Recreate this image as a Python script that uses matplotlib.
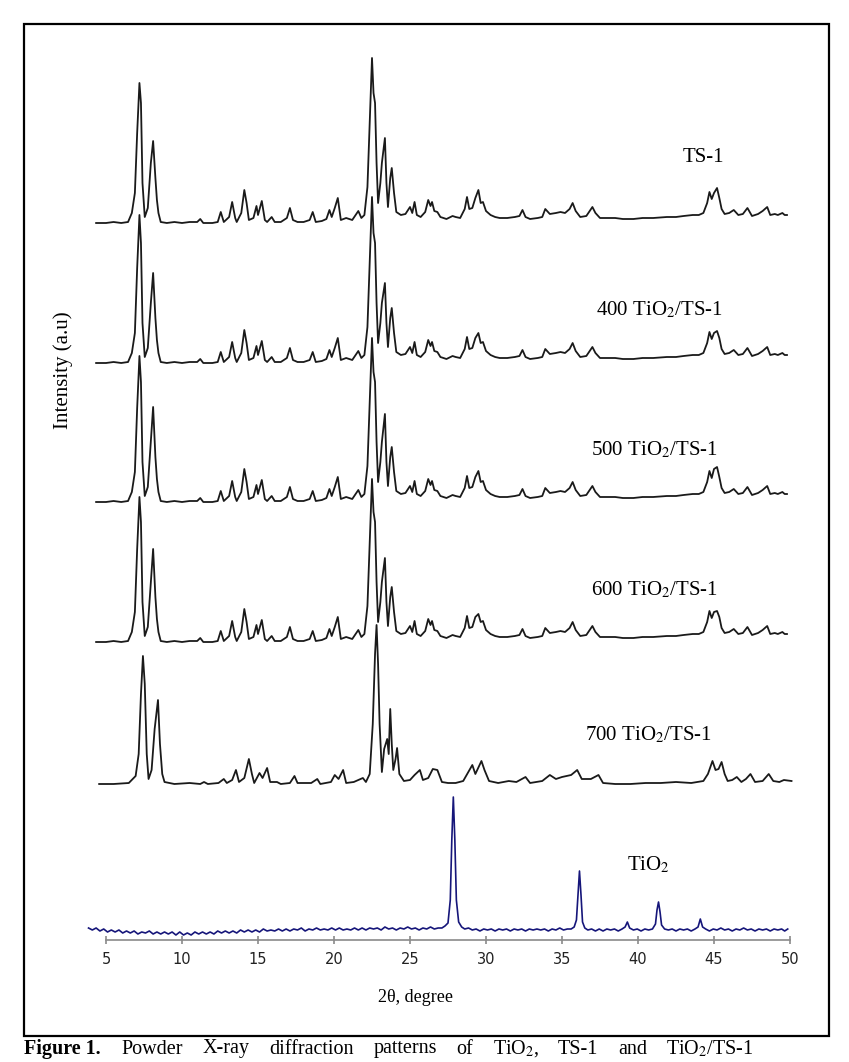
#!/usr/bin/env python3
import matplotlib as mpl
import matplotlib.pyplot as plt
from matplotlib.patches import Rectangle

# XRD traces: (2theta, height above the trace's own baseline)
ts1 = [
    (4.35, 0), (5.0, 0), (5.5, 1), (6.0, 0), (6.45, 1), (6.7, 10), (6.9, 30),
    (7.05, 90), (7.2, 140), (7.3, 120), (7.4, 40), (7.55, 6), (7.75, 15),
    (7.95, 60), (8.1, 82), (8.25, 45), (8.35, 23), (8.45, 10), (8.6, 1),
    (9.0, 0), (9.5, 1), (10.0, 0), (10.5, 1), (11.0, 1), (11.2, 4), (11.4, 0),
    (12.0, 0), (12.35, 1), (12.55, 11), (12.75, 1), (13.1, 6), (13.3, 21),
    (13.5, 5), (13.6, 1), (13.9, 10), (14.1, 33), (14.25, 20), (14.4, 3),
    (14.7, 5), (14.9, 17), (15.0, 8), (15.25, 22), (15.45, 3), (15.6, 1),
    (15.9, 6), (16.1, 1), (16.5, 1), (16.9, 5), (17.1, 15), (17.3, 3),
    (17.6, 1), (18.0, 1), (18.4, 3), (18.6, 11), (18.8, 1), (19.2, 2),
    (19.5, 4), (19.7, 13), (19.85, 6), (20.05, 15), (20.25, 25), (20.45, 3),
    (20.8, 5), (21.2, 3), (21.6, 12), (21.8, 5), (22.0, 8), (22.2, 36),
    (22.35, 100), (22.5, 165), (22.6, 130), (22.7, 120), (22.8, 60),
    (22.9, 20), (23.05, 40), (23.15, 60), (23.35, 85), (23.45, 40),
    (23.55, 16), (23.7, 45), (23.8, 55), (23.95, 30), (24.1, 11), (24.4, 8),
    (24.7, 9), (25.0, 16), (25.15, 10), (25.3, 21), (25.45, 8), (25.7, 6),
    (26.0, 11), (26.2, 23), (26.35, 17), (26.45, 21), (26.6, 12), (26.8, 11),
    (27.0, 6), (27.4, 4), (27.8, 7), (28.0, 6), (28.3, 5), (28.6, 14),
    (28.75, 26), (28.9, 14), (29.1, 15), (29.3, 25), (29.5, 33), (29.65, 20),
    (29.8, 21), (30.0, 12), (30.3, 8), (30.6, 6), (30.9, 5), (31.4, 5),
    (31.9, 6), (32.2, 7), (32.4, 13), (32.6, 6), (32.9, 4), (33.4, 5),
    (33.7, 6), (33.9, 14), (34.2, 9), (34.6, 10), (34.9, 11), (35.2, 10),
    (35.5, 14), (35.7, 20), (35.9, 12), (36.2, 6), (36.6, 7), (37.0, 16),
    (37.2, 10), (37.5, 5), (38.0, 5), (38.5, 5), (39.0, 4), (39.7, 4),
    (40.3, 5), (41.0, 5), (41.9, 6), (42.5, 6), (43.0, 7), (43.6, 8),
    (44.0, 8), (44.3, 10), (44.55, 20), (44.7, 31), (44.85, 24), (45.0, 30),
    (45.2, 35), (45.35, 25), (45.5, 14), (45.7, 9), (46.0, 10), (46.3, 13),
    (46.6, 8), (46.9, 9), (47.2, 15), (47.5, 7), (47.9, 9), (48.2, 12),
    (48.5, 16), (48.7, 8), (49.0, 9), (49.2, 8), (49.5, 10), (49.65, 8),
    (49.8, 8),
]

# the calcined samples follow the TS-1 pattern; these are the points read
# differently off each of their traces
peaks_400 = {(7.05): 95, (7.2): 148, (8.1): 90, (22.5): 166, (23.35): 80,
             (29.5): 30, (45.2): 32}
peaks_500 = {(7.05): 94, (7.2): 146, (8.1): 95, (22.5): 164, (23.35): 88,
             (29.5): 31, (45.0): 33}
peaks_600 = {(7.05): 93, (7.2): 145, (8.1): 93, (22.5): 163, (23.35): 84,
             (29.5): 28, (45.2): 31}

ts1_700 = [
    (4.55, 0), (5.5, 0), (6.5, 1), (6.95, 8), (7.15, 30), (7.3, 90),
    (7.43, 128), (7.55, 100), (7.68, 30), (7.8, 5), (8.0, 14), (8.2, 55),
    (8.42, 84), (8.55, 40), (8.7, 10), (8.85, 2), (9.5, 0), (10.5, 1),
    (11.2, 0), (11.45, 2), (11.7, 0), (12.4, 1), (12.75, 5), (12.95, 1),
    (13.3, 4), (13.55, 14), (13.75, 2), (14.1, 6), (14.4, 25), (14.6, 10),
    (14.75, 1), (15.1, 11), (15.3, 6), (15.6, 16), (15.8, 2), (16.25, 2),
    (16.5, 0), (17.1, 1), (17.4, 8), (17.6, 1), (18.5, 1), (18.9, 5),
    (19.1, 0), (19.8, 2), (20.05, 9), (20.3, 5), (20.6, 14), (20.8, 1),
    (21.3, 2), (21.9, 6), (22.1, 2), (22.35, 10), (22.55, 60), (22.7, 130),
    (22.8, 159), (22.9, 120), (23.0, 60), (23.15, 12), (23.3, 35),
    (23.5, 45), (23.6, 30), (23.7, 75), (23.8, 40), (23.9, 14), (24.05, 25),
    (24.15, 36), (24.3, 10), (24.6, 3), (25.0, 4), (25.3, 9), (25.65, 14),
    (25.85, 4), (26.2, 6), (26.5, 15), (26.8, 14), (27.1, 2), (27.5, 1),
    (28.0, 1), (28.5, 3), (29.1, 19), (29.3, 10), (29.7, 23), (29.9, 14),
    (30.2, 3), (30.8, 1), (31.5, 3), (32.0, 2), (32.6, 7), (32.9, 1),
    (33.7, 3), (34.2, 9), (34.6, 5), (35.0, 7), (35.6, 9), (36.0, 14),
    (36.3, 5), (36.9, 5), (37.4, 9), (37.7, 1), (38.5, 0), (39.5, 0),
    (40.5, 1), (41.5, 1), (42.5, 2), (43.5, 1), (44.3, 3), (44.6, 10),
    (44.9, 23), (45.1, 14), (45.3, 15), (45.5, 22), (45.7, 10), (45.9, 3),
    (46.2, 4), (46.5, 7), (46.8, 2), (47.1, 5), (47.4, 10), (47.7, 2),
    (48.2, 3), (48.6, 10), (48.9, 3), (49.3, 2), (49.6, 4), (50.1, 3),
]

tio2 = [
    (3.85, 12), (4.1, 10), (4.35, 12), (4.6, 9), (4.85, 11), (5.1, 8),
    (5.35, 10), (5.6, 8), (5.85, 10), (6.1, 7), (6.35, 9), (6.6, 7),
    (6.85, 9), (7.1, 6), (7.35, 8), (7.6, 7), (7.85, 9), (8.1, 6), (8.35, 8),
    (8.6, 6), (8.85, 8), (9.1, 6), (9.35, 8), (9.6, 5), (9.85, 8), (10.1, 5),
    (10.35, 7), (10.6, 5), (10.85, 8), (11.1, 6), (11.35, 8), (11.6, 6),
    (11.85, 8), (12.1, 6), (12.35, 9), (12.6, 7), (12.85, 9), (13.1, 7),
    (13.35, 9), (13.6, 7), (13.85, 10), (14.1, 8), (14.35, 10), (14.6, 8),
    (14.85, 10), (15.1, 8), (15.35, 11), (15.6, 9), (15.85, 10), (16.1, 9),
    (16.35, 11), (16.6, 9), (16.85, 11), (17.1, 9), (17.35, 11), (17.6, 10),
    (17.85, 12), (18.1, 9), (18.35, 11), (18.6, 10), (18.85, 12), (19.1, 10),
    (19.35, 11), (19.6, 10), (19.85, 12), (20.1, 10), (20.35, 12),
    (20.6, 10), (20.85, 11), (21.1, 10), (21.35, 12), (21.6, 10), (21.85, 12),
    (22.1, 10), (22.35, 12), (22.6, 11), (22.85, 12), (23.1, 10), (23.35, 13),
    (23.6, 11), (23.85, 12), (24.1, 10), (24.35, 12), (24.6, 11), (24.85, 13),
    (25.1, 11), (25.35, 12), (25.6, 10), (25.85, 12), (26.1, 11), (26.35, 13),
    (26.6, 11), (26.85, 12), (27.1, 12), (27.3, 14), (27.5, 17), (27.65, 40),
    (27.75, 100), (27.85, 143), (27.95, 100), (28.05, 40), (28.2, 18),
    (28.4, 13), (28.6, 11), (28.85, 12), (29.1, 10), (29.35, 11), (29.6, 9),
    (29.85, 11), (30.1, 10), (30.35, 11), (30.6, 9), (30.85, 11), (31.1, 10),
    (31.35, 11), (31.6, 9), (31.85, 11), (32.1, 10), (32.35, 11), (32.6, 9),
    (32.85, 11), (33.1, 10), (33.35, 11), (33.6, 10), (33.85, 11), (34.1, 9),
    (34.35, 11), (34.6, 10), (34.85, 12), (35.1, 10), (35.35, 11),
    (35.6, 11), (35.8, 13), (35.95, 20), (36.05, 45), (36.15, 69),
    (36.25, 45), (36.35, 18), (36.5, 12), (36.7, 10), (36.95, 11), (37.2, 9),
    (37.45, 11), (37.7, 9), (37.95, 11), (38.2, 10), (38.45, 11), (38.7, 9),
    (38.95, 11), (39.15, 13), (39.3, 18), (39.45, 12), (39.7, 10),
    (39.95, 11), (40.2, 9), (40.45, 11), (40.7, 10), (40.95, 11), (41.15, 16),
    (41.25, 30), (41.35, 38), (41.45, 28), (41.55, 15), (41.75, 11),
    (42.0, 10), (42.25, 11), (42.5, 9), (42.75, 11), (43.0, 10), (43.25, 11),
    (43.5, 9), (43.75, 11), (43.95, 13), (44.1, 21), (44.25, 13),
    (44.45, 11), (44.7, 9), (44.95, 11), (45.2, 10), (45.45, 12), (45.7, 10),
    (45.95, 11), (46.2, 9), (46.45, 11), (46.7, 10), (46.95, 12), (47.2, 10),
    (47.45, 11), (47.7, 9), (47.95, 11), (48.2, 10), (48.45, 11), (48.7, 9),
    (48.95, 11), (49.2, 10), (49.45, 11), (49.65, 9), (49.85, 11),
]

labels = ["TS-1", "400 TiO$_2$/TS-1", "500 TiO$_2$/TS-1",
          "600 TiO$_2$/TS-1", "700 TiO$_2$/TS-1"]
offsets = [717, 577, 438, 298, 156]
label_pos = [(44.3, 782), (41.4, 630), (41.1, 490), (41.1, 350), (40.7, 205)]
xticks = [5, 10, 15, 20, 25, 30, 35, 40, 45, 50]

caption_words = ["Figure 1.", "Powder", "X-ray", "diffraction", "patterns",
                 "of", "TiO$_2$,", "TS-1", "and", "TiO$_2$/TS-1"]
caption_x = [24, 121, 203, 269, 374, 456, 493, 558, 618, 666]


def main():
    mpl.rcParams["font.family"] = "Liberation Serif"
    mpl.rcParams["mathtext.fontset"] = "stix"

    ts1_400 = [(t, peaks_400.get(t, h)) for t, h in ts1]
    ts1_500 = [(t, peaks_500.get(t, h)) for t, h in ts1]
    ts1_600 = [(t, peaks_600.get(t, h)) for t, h in ts1]

    W, H = 849, 1062
    fig = plt.figure(figsize=(W / 100, H / 100), dpi=100)
    # axes in pixel terms: x 24..829, y 940 (axis line) up to 24
    ax = fig.add_axes([24 / W, (H - 940) / H, 805 / W, 916 / H])
    ax.set_xlim(5 - 82 / 15.2, 50 + 39 / 15.2)
    ax.set_ylim(0, 916)

    series = [ts1, ts1_400, ts1_500, ts1_600, ts1_700]
    for data, off, lab, pos in zip(series, offsets, labels, label_pos):
        tt = [p[0] for p in data]
        inten = [p[1] + off for p in data]
        ax.plot(tt, inten, color="#1a1a1a", lw=1.3)
        ax.text(pos[0], pos[1], lab, fontsize=15, ha="center", va="center")

    ax.plot([p[0] for p in tio2], [p[1] for p in tio2], color="#16167a", lw=1.2)
    ax.text(40.66, 75, "TiO$_2$", fontsize=15, ha="center", va="center")

    for side in ["top", "left", "right"]:
        ax.spines[side].set_visible(False)
    ax.spines["bottom"].set_bounds(5, 50)
    ax.spines["bottom"].set_color("#8a8a8a")
    ax.spines["bottom"].set_linewidth(1.2)
    ax.set_yticks([])
    ax.set_xticks(xticks)
    ax.tick_params(axis="x", direction="inout", length=6, width=1.2,
                   color="#8a8a8a", pad=6, labelsize=10.5, labelcolor="#222222",
                   labelfontfamily="DejaVu Sans")

    fig.text(416 / W, 1 - 998 / H, "2θ, degree", fontsize=13,
             ha="center", va="center")
    fig.text(63 / W, 1 - 370 / H, "Intensity (a.u)", fontsize=15,
             rotation=90, ha="center", va="center")

    fig.add_artist(Rectangle((24 / W, 1 - 1036 / H), 805 / W, 1012 / H,
                             transform=fig.transFigure, fill=False,
                             lw=1.6, color="black"))

    for i, (word, x) in enumerate(zip(caption_words, caption_x)):
        fig.text(x / W, 1 - 1049 / H, word, fontsize=14.5,
                 fontweight="bold" if i == 0 else "normal",
                 ha="left", va="center")

    fig.savefig("out.png", dpi=100)
    plt.close(fig)


if __name__ == "__main__":
    main()
